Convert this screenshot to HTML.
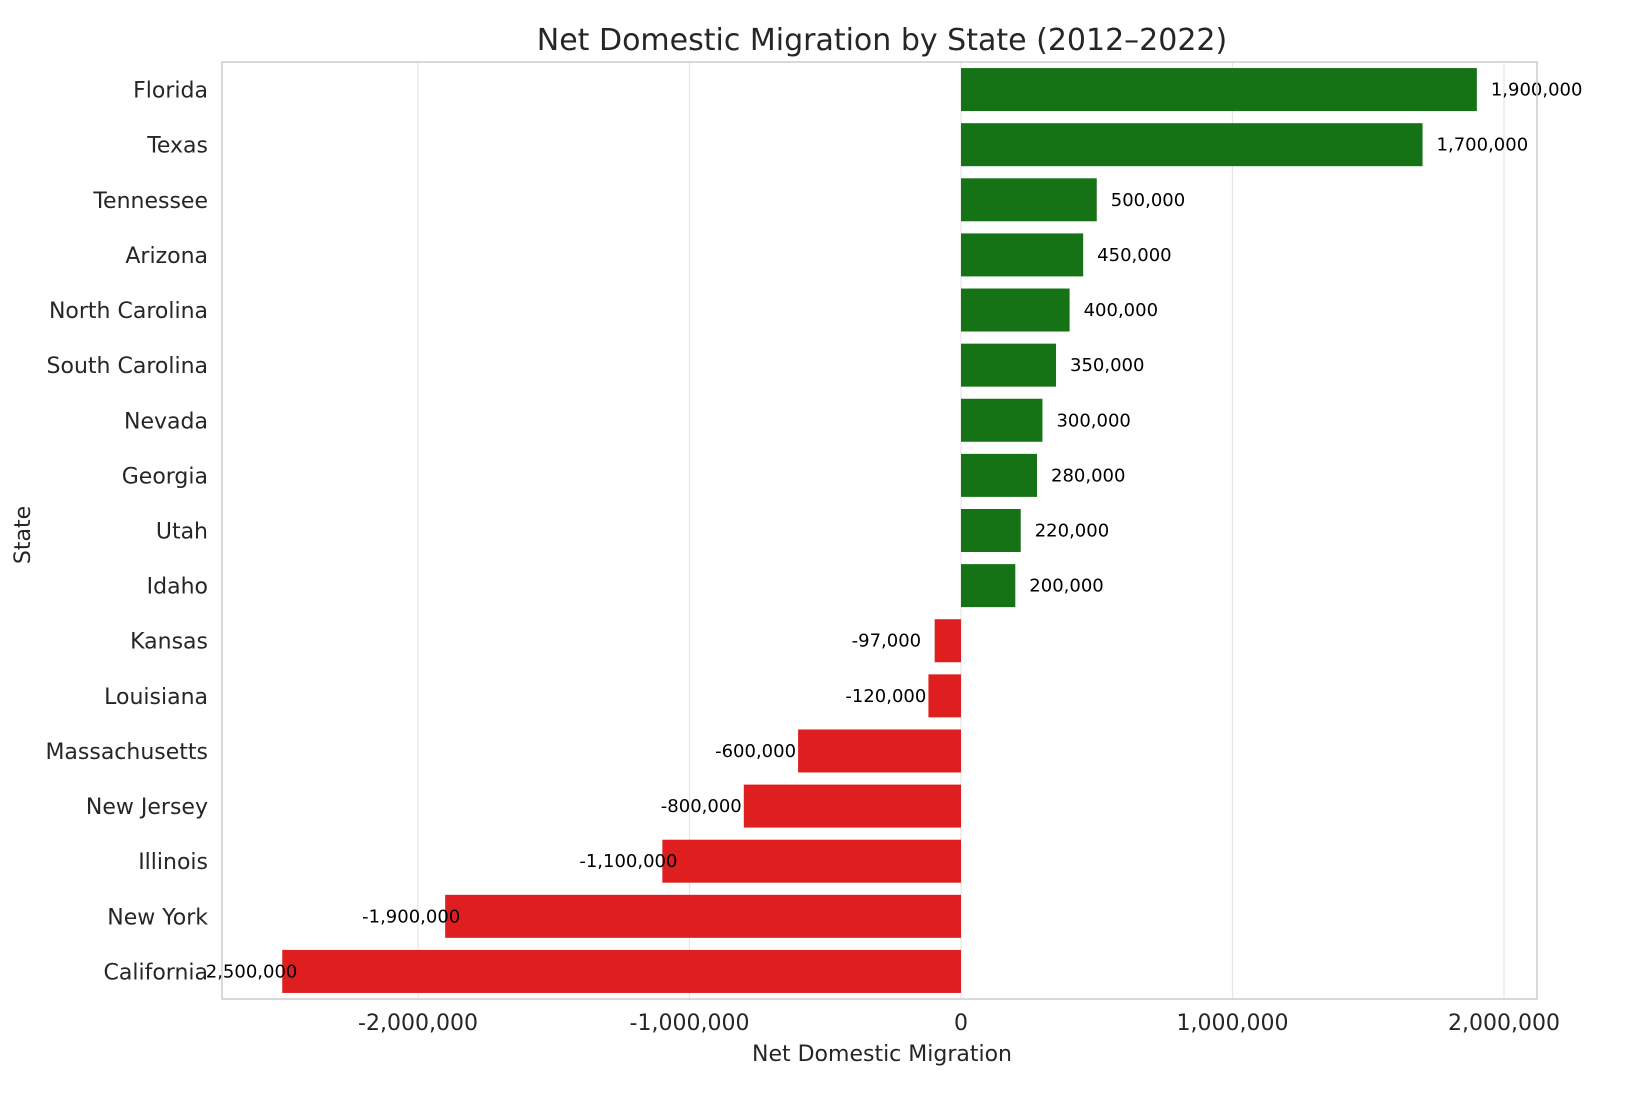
<!DOCTYPE html>
<html><head><meta charset="utf-8"><style>
html,body{margin:0;padding:0;background:#fff;}
svg text{font-family:"DejaVu Sans","Liberation Sans",sans-serif;}
</style></head><body>
<svg id="chart" width="1634" height="1088" viewBox="0 0 1634 1088" xmlns="http://www.w3.org/2000/svg">
<rect width="1634" height="1088" fill="#fff"/>
<text x="882" y="50" font-size="30" fill="#262626" text-anchor="middle">Net Domestic Migration by State (2012–2022)</text>
<g id="grid"></g>
<g id="bars"></g>
<g id="labels"></g>
<rect x="222" y="62" width="1315" height="937" fill="none" stroke="#cccccc" stroke-width="1.5"/>
<text x="882" y="1061" font-size="22" fill="#262626" text-anchor="middle">Net Domestic Migration</text>
<text x="30" y="535" font-size="22" fill="#262626" text-anchor="middle" transform="rotate(-90 30 535)">State</text>
</svg>
<script>
const states = ["Florida","Texas","Tennessee","Arizona","North Carolina","South Carolina","Nevada","Georgia","Utah","Idaho","Kansas","Louisiana","Massachusetts","New Jersey","Illinois","New York","California"];
const values = [1900000,1700000,500000,450000,400000,350000,300000,280000,220000,200000,-97000,-120000,-600000,-800000,-1100000,-1900000,-2500000];
const ticks = [-2000000,-1000000,0,1000000,2000000];
const tickLabels = ["-2,000,000","-1,000,000","0","1,000,000","2,000,000"];

const NS = "http://www.w3.org/2000/svg";
const top0 = 62, bottom0 = 999;
const band = (bottom0 - top0) / states.length;
function xs(v){ return 961 + v * 0.0002715; }
function yc(i){ return top0 + band * (i + 0.5); }
function mk(tag, attrs, parent){ const e = document.createElementNS(NS, tag); for (const k in attrs) e.setAttribute(k, attrs[k]); parent.appendChild(e); return e; }
function fmt(v){ return (v<0?"-":"") + Math.abs(v).toLocaleString("en-US"); }

const grid = document.getElementById("grid");
const bars = document.getElementById("bars");
const labels = document.getElementById("labels");
const svg = document.getElementById("chart");

ticks.forEach((t, i) => {
  const gl = mk("line", {x1: xs(t), x2: xs(t), y1: top0, y2: bottom0, stroke: "#e6e6e6", "stroke-width": 1.2}, grid);
  
  
  const tl = mk("text", {x: xs(t), y: 1030, "font-size": 22, fill: "#262626", "text-anchor": "middle"}, svg);
  tl.textContent = tickLabels[i];
  
  
});

states.forEach((s, i) => {
  const v = values[i];
  const bh = band * 0.78;
  const x0 = Math.min(xs(0), xs(v)), w = Math.abs(xs(v) - xs(0));
  const r = mk("rect", {x: x0, y: yc(i) - bh/2, width: w, height: bh, fill: v >= 0 ? "#157215" : "#df1f1f"}, bars);
  
  
  const yl = mk("text", {x: 208, y: yc(i) + 8, "font-size": 22, fill: "#262626", "text-anchor": "end"}, svg);
  yl.textContent = s;
  
  
  const vl = mk("text", {x: v >= 0 ? xs(v) + 14 : xs(v) - 83, y: yc(i) + 6, "font-size": 18, fill: "#000"}, labels);
  vl.textContent = fmt(v);
  
  
});
</script>
</body></html>
